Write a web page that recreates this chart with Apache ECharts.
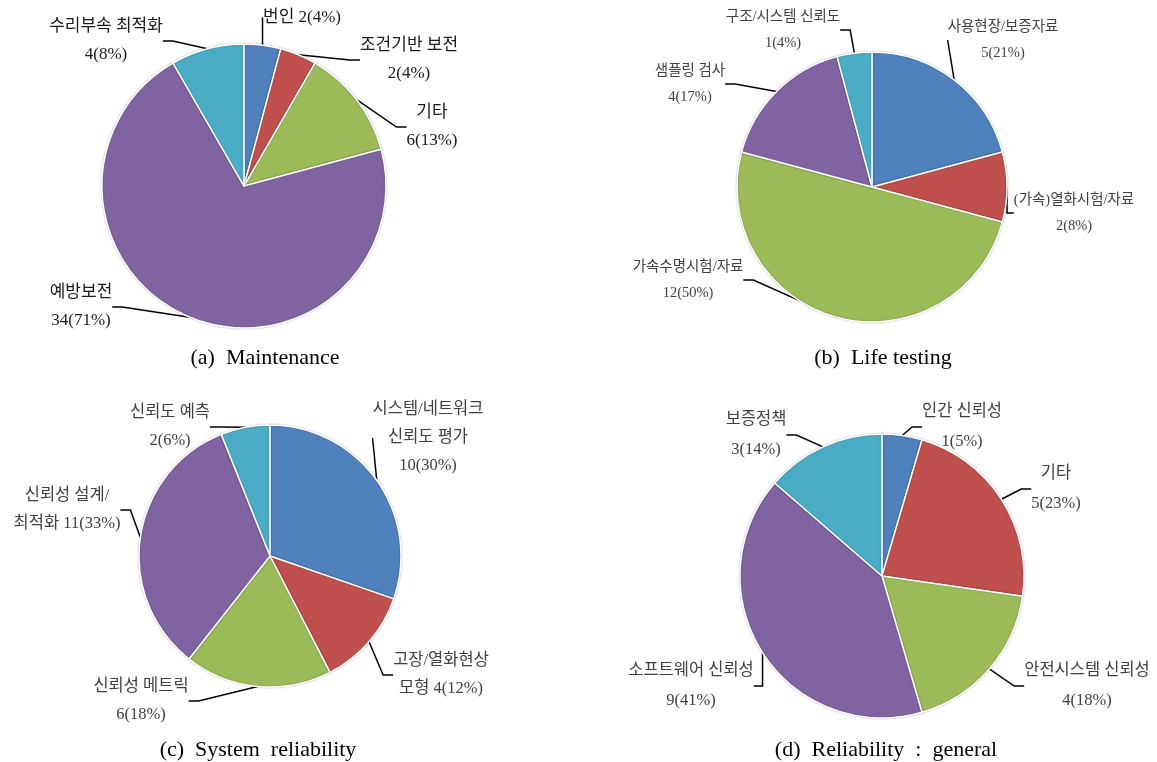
<!DOCTYPE html>
<html>
<head>
<meta charset="utf-8">
<script src="https://cdn.jsdelivr.net/npm/echarts@6/dist/echarts.min.js"></script>
<style>
html,body{margin:0;padding:0;background:#fff;}
#chart{width:1157px;height:762px;}
</style>
</head>
<body>
<div id="chart"></div>
<script>
// ---- data ----
const namesA = ['번인', '조건기반 보전', '기타', '예방보전', '수리부속 최적화'];
const valuesA = [2, 2, 6, 34, 4];
const sepA = [' ', '\n', '\n', '\n', '\n'];
const captionA = '(a)  Maintenance';

const namesB = ['사용현장/보증자료', '(가속)열화시험/자료', '가속수명시험/자료', '샘플링 검사', '구조/시스템 신뢰도'];
const valuesB = [5, 2, 12, 4, 1];
const sepB = ['\n', '\n', '\n', '\n', '\n'];
const captionB = '(b)  Life testing';

const namesC = ['시스템/네트워크\n신뢰도 평가', '고장/열화현상\n모형', '신뢰성 메트릭', '신뢰성 설계/\n최적화', '신뢰도 예측'];
const valuesC = [10, 4, 6, 11, 2];
const sepC = ['\n', ' ', '\n', ' ', '\n'];
const captionC = '(c)  System  reliability';

const namesD = ['인간 신뢰성', '기타', '안전시스템 신뢰성', '소프트웨어 신뢰성', '보증정책'];
const valuesD = [1, 5, 4, 9, 3];
const sepD = ['\n', '\n', '\n', '\n', '\n'];
const captionD = '(d)  Reliability  :  general';

const colors = ['#4F81BD', '#C0504D', '#9BBB59', '#8064A2', '#4BACC6'];

// ---- layout (styling only) ----
const pies = [
  {names: namesA, values: valuesA, sep: sepA, caption: captionA, center: [244, 186], r: 142, cap: [260, 355],
   labelPos: [[302, 18], [409, 60], [432, 127], [81, 307], [106, 41]], fs: 17, lh: 28, color: '#1a1a1a'},
  {names: namesB, values: valuesB, sep: sepB, caption: captionB, center: [872, 187], r: 135, cap: [878, 355],
   labelPos: [[1003, 40], [1074, 213], [688, 280], [690, 84], [783, 30]], fs: 14.5, lh: 26, color: '#404040'},
  {names: namesC, values: valuesC, sep: sepC, caption: captionC, center: [270, 556], r: 131, cap: [253, 747],
   labelPos: [[428, 438], [441, 675], [141, 701], [67, 510], [170, 427]], fs: 16.5, lh: 28, color: '#404040'},
  {names: namesD, values: valuesD, sep: sepD, caption: captionD, center: [882, 576], r: 142, cap: [881, 747],
   labelPos: [[962, 427], [1056, 489], [1087, 686], [691, 686], [756, 435]], fs: 16.5, lh: 30, color: '#404040'}
];

const chart = echarts.init(document.getElementById('chart'));

const series = pies.map((p, si) => {
  const total = p.values.reduce((a, b) => a + b, 0);
  return {
    type: 'pie',
    center: p.center,
    radius: p.r,
    startAngle: 90,
    clockwise: true,
    animation: false,
    silent: true,
    data: p.names.map((n, i) => ({
      name: n,
      value: p.values[i],
      itemStyle: {color: colors[i]},
      label: {formatter: n + p.sep[i] + p.values[i] + '(' + Math.round(p.values[i] / total * 100) + '%)'}
    })),
    itemStyle: {borderColor: '#fff', borderWidth: 1.5, shadowColor: 'rgba(0,0,0,0.25)', shadowBlur: 2},
    label: {
      show: true,
      position: 'outside',
      overflow: 'none',
      fontFamily: "'Liberation Serif','Noto Sans CJK KR',serif",
      fontSize: p.fs,
      lineHeight: p.lh,
      color: p.color,
      align: 'center'
    },
    labelLine: {show: true, length: 10, length2: 10, lineStyle: {color: '#000', width: 1.5}},
    labelLayout: function (params) {
      const pos = p.labelPos[params.dataIndex];
      return {x: pos[0], y: pos[1], align: 'center', verticalAlign: 'middle'};
    }
  };
});

const titles = pies.map(p => ({
  text: p.caption,
  left: p.cap[0],
  top: p.cap[1] - 13,
  textAlign: 'center',
  textStyle: {fontFamily: "'Liberation Serif','DejaVu Serif',serif", fontSize: 22, fontWeight: 'normal', color: '#000'}
}));

chart.setOption({
  backgroundColor: '#fff',
  title: titles,
  series: series
});
</script>
</body>
</html>
